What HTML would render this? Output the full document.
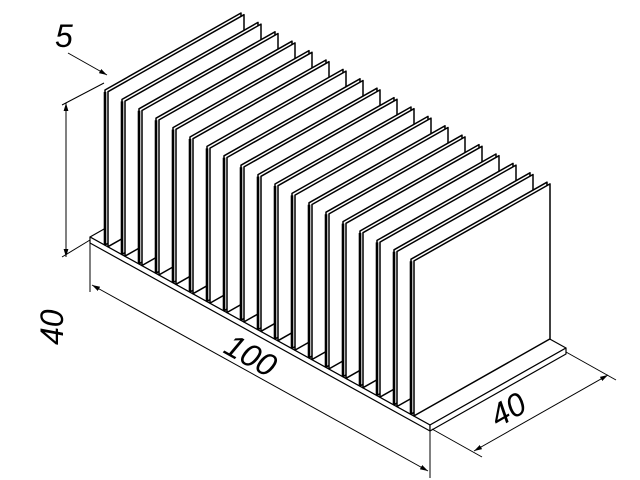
<!DOCTYPE html>
<html><head><meta charset="utf-8"><style>
html,body{margin:0;padding:0;background:#fff;width:640px;height:480px;overflow:hidden}
svg{display:block}
text{font-family:"Liberation Sans",sans-serif;font-size:32px;fill:#000;font-style:italic}
</style></head><body>
<svg id="s" width="640" height="480" viewBox="0 0 640 480" xmlns="http://www.w3.org/2000/svg">
<defs><marker id="a" viewBox="0 0 10 10" refX="10" refY="5" markerWidth="8" markerHeight="8" orient="auto-start-reverse"><path d="M0,2 L10,5 L0,8 z" fill="#000"/></marker></defs>
<g id="base" stroke="#000" stroke-width="1.2" fill="#fff" stroke-linejoin="round">
<polygon points="90,237 430,425 566,348 226,160"/>
<polygon points="90,237 430,425 430,431 90,243"/>
<polygon points="430,425 566,348 566,354 430,431"/>
</g>
<g id="fins" stroke="#000" stroke-width="1.5" fill="#fff" stroke-linejoin="round"></g>
<g stroke="#000" stroke-width="1" fill="none">
<line x1="90" y1="243" x2="90" y2="292"/>
<line x1="430" y1="431" x2="430" y2="478"/>
<line x1="92" y1="285" x2="428" y2="471" marker-start="url(#a)" marker-end="url(#a)"/>
<line x1="566" y1="352" x2="616" y2="380"/>
<line x1="432" y1="429" x2="482" y2="457"/>
<line x1="474" y1="451" x2="608" y2="375" marker-start="url(#a)" marker-end="url(#a)"/>
<line x1="66" y1="103" x2="66" y2="257" marker-start="url(#a)" marker-end="url(#a)"/>
<line x1="104" y1="83" x2="62" y2="105"/>
<line x1="90" y1="240" x2="62" y2="257"/>
<line x1="68" y1="53" x2="107" y2="75" marker-end="url(#a)"/>
</g>
<text x="55" y="47">5</text>
<text transform="translate(63,345) rotate(-90)">40</text>
<text transform="translate(222,352) rotate(29)">100</text>
<text transform="translate(498,428) rotate(-30)">40</text>
</svg>
<script>
var g=document.getElementById('fins'),h='';
for(var i=0;i<19;i++){
 var x=105+17*i,y=245+9.4*i;
 function P(o){var ox=o*3,oy=o*1.7;return [[x+ox,y+oy],[x+ox,y-155+oy],[x+136+ox,y-232+oy],[x+136+ox,y-77+oy]].map(function(p){return p[0].toFixed(1)+','+p[1].toFixed(1)}).join(' ');}
 h+='<polygon points="'+P(0)+'"/><polygon points="'+P(1)+'"/>';
 h+='<line x1="'+x+'" y1="'+y+'" x2="'+x+'" y2="'+(y-153)+'" stroke-width="2.6"/>';
}
g.innerHTML=h;
</script>
</body></html>
